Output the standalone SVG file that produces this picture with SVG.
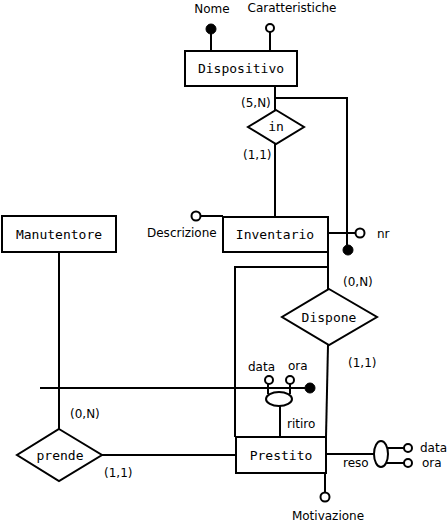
<svg xmlns="http://www.w3.org/2000/svg" width="448" height="524" viewBox="0 0 448 524">
<style>
.box{fill:#fff;stroke:#000;stroke-width:2}
.ln{fill:none;stroke:#000;stroke-width:2}
.att{fill:#fff;stroke:#000;stroke-width:2}
.key{fill:#000;stroke:#000;stroke-width:1}
.mono{font-family:"DejaVu Sans Mono","Liberation Mono",monospace;font-size:13px;fill:#000;text-anchor:middle}
.lbl{font-family:"DejaVu Sans","Liberation Sans",sans-serif;font-size:12px;fill:#000}
</style>
<rect width="448" height="524" fill="#fff"/>
<g id="connectors">
<line class="ln" x1="211" y1="29" x2="211" y2="51"/>
<line class="ln" x1="270" y1="29" x2="270" y2="51"/>
<line class="ln" x1="275" y1="86" x2="275" y2="110"/>
<polyline class="ln" points="275,98 347,98 347,245"/>
<line class="ln" x1="275" y1="144" x2="275" y2="217"/>
<line class="ln" x1="200" y1="216" x2="223" y2="216"/>
<line class="ln" x1="328" y1="233" x2="356" y2="233"/>
<line class="ln" x1="328" y1="252" x2="328" y2="289"/>
<polyline class="ln" points="328,267 235,267 235,437"/>
<line class="ln" x1="328" y1="345" x2="326" y2="437"/>
<line class="ln" x1="40" y1="388" x2="305" y2="388"/>
<line class="ln" x1="268" y1="384" x2="268" y2="394"/>
<line class="ln" x1="290" y1="384" x2="290" y2="394"/>
<line class="ln" x1="280" y1="406" x2="280" y2="437"/>
<line class="ln" x1="326" y1="454" x2="374" y2="454"/>
<line class="ln" x1="381" y1="448" x2="404" y2="448"/>
<line class="ln" x1="381" y1="463" x2="404" y2="463"/>
<line class="ln" x1="325" y1="473" x2="325" y2="492"/>
<line class="ln" x1="59" y1="252" x2="59" y2="429"/>
<line class="ln" x1="102" y1="455" x2="236" y2="455"/>
</g>
<g id="Dispositivo">
<rect class="box" x="185" y="51" width="112" height="35"/>
<text class="mono" x="241" y="73">Dispositivo</text>
<circle class="key" cx="211" cy="29" r="5"/>
<text class="lbl" x="212" y="13" text-anchor="middle">Nome</text>
<circle class="att" cx="270" cy="28" r="4"/>
<text class="lbl" x="292" y="12" text-anchor="middle">Caratteristiche</text>
</g>
<g id="in">
<polygon class="box" points="276,110 304,127 276,144 248,127"/>
<text class="mono" x="276" y="131">in</text>
<text class="lbl" x="241" y="107">(5,N)</text>
<text class="lbl" x="243" y="159">(1,1)</text>
</g>
<g id="Inventario">
<rect class="box" x="223" y="217" width="105" height="35"/>
<text class="mono" x="275" y="239">Inventario</text>
<circle class="att" cx="196" cy="216" r="4.5"/>
<text class="lbl" x="147" y="237">Descrizione</text>
<circle class="att" cx="360" cy="233" r="4.5"/>
<text class="lbl" x="377" y="238">nr</text>
<circle class="key" cx="348" cy="250" r="5"/>
</g>
<g id="Dispone">
<polygon class="box" points="329,289 377,317 329,345 282,317"/>
<text class="mono" x="329" y="322">Dispone</text>
<text class="lbl" x="343" y="286">(0,N)</text>
<text class="lbl" x="348" y="367">(1,1)</text>
</g>
<g id="Manutentore">
<rect class="box" x="2" y="216" width="114" height="36"/>
<text class="mono" x="59" y="239">Manutentore</text>
</g>
<g id="prende">
<polygon class="box" points="59,429 102,455 59,481 17,455"/>
<text class="mono" x="60" y="460">prende</text>
<text class="lbl" x="70" y="418">(0,N)</text>
<text class="lbl" x="104" y="477">(1,1)</text>
</g>
<g id="Prestito">
<rect class="box" x="236" y="437" width="90" height="36"/>
<text class="mono" x="281" y="460">Prestito</text>
<ellipse class="att" cx="279" cy="399" rx="13" ry="7"/>
<circle class="att" cx="269" cy="380" r="4"/>
<circle class="att" cx="290" cy="380" r="4"/>
<circle class="key" cx="310" cy="388" r="5"/>
<text class="lbl" x="248" y="371">data</text>
<text class="lbl" x="288" y="370">ora</text>
<text class="lbl" x="287" y="428">ritiro</text>
<ellipse class="att" cx="381" cy="454" rx="7" ry="13"/>
<circle class="att" cx="408" cy="448" r="4"/>
<circle class="att" cx="408" cy="463" r="4"/>
<text class="lbl" x="343" y="467">reso</text>
<text class="lbl" x="420" y="452">data</text>
<text class="lbl" x="422" y="467">ora</text>
<circle class="att" cx="325" cy="497" r="4.5"/>
<text class="lbl" x="328" y="520" text-anchor="middle">Motivazione</text>
</g>
</svg>
